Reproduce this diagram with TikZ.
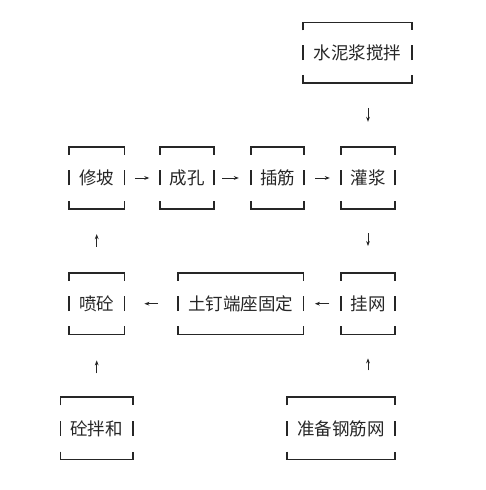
\documentclass[tikz,border=0pt]{standalone}
\usepackage{fontspec}
\newfontfamily\cjk{Noto Sans CJK SC}
\usetikzlibrary{arrows.meta}
\begin{document}
\begin{tikzpicture}[x=1pt,y=1pt,
  box/.style={inner sep=0pt,font=\cjk\fontsize{17.5}{20}\selectfont,text=black!85},
  brk/.style={line width=1.6pt,black!85},
  arr/.style={line width=0.8pt,black!85,-{Stealth[length=5pt,width=3.8pt]}}]
\useasboundingbox (0,0) rectangle (485,490);
% nodes (y = 490 - pixel row)
\node[box,minimum width=109pt,minimum height=60pt] (mix)   at (357.5,437.3) {水泥浆搅拌};
\node[box,minimum width=55pt,minimum height=62pt]  (xiupo) at (96.7,312) {修坡};
\node[box,minimum width=54pt,minimum height=62pt]  (hole)  at (187,312) {成孔};
\node[box,minimum width=53pt,minimum height=62pt]  (bar)   at (277.5,312) {插筋};
\node[box,minimum width=54pt,minimum height=62pt]  (grout) at (368,312) {灌浆};
\node[box,minimum width=55pt,minimum height=61pt]  (spray) at (96.7,186.3) {喷砼};
\node[box,minimum width=125pt,minimum height=61pt] (nail)  at (240.7,186.3) {土钉端座固定};
\node[box,minimum width=54pt,minimum height=61pt]  (mesh)  at (368,186.3) {挂网};
\node[box,minimum width=72pt,minimum height=62pt]  (conc)  at (96.7,61.5) {砼拌和};
\node[box,minimum width=108pt,minimum height=62pt] (prep)  at (341,61.5) {准备钢筋网};
% bracket frames
\foreach \n in {mix,xiupo,hole,bar,grout,spray,nail,mesh,conc,prep}{
  \draw[brk] (\n.north west) ++(0,-8) -- ++(0,8) -- (\n.north east) -- ++(0,-8);
  \draw[brk] (\n.south west) ++(0,8) -- ++(0,-8) -- (\n.south east) -- ++(0,8);
  \draw[brk] (\n.west) ++(0,-7.5) -- ++(0,15);
  \draw[brk] (\n.east) ++(0,-7.5) -- ++(0,15);
}
% connectors
\draw[arr,shorten <=10.5pt,shorten >=10.5pt] (xiupo) -- (hole);
\draw[arr,shorten <=8pt,shorten >=12pt] (hole) -- (bar);
\draw[arr,shorten <=11pt,shorten >=11pt] (bar) -- (grout);
\draw[arr,shorten <=11.5pt,shorten >=11.5pt] (mesh) -- (nail);
\draw[arr,shorten <=20pt,shorten >=20pt] (nail) -- (spray);
\draw[arr,shorten <=25pt,shorten >=25pt] (grout.north |- mix.south) -- (grout.north);
\draw[arr,shorten <=24pt,shorten >=27pt] (grout) -- (mesh);
\draw[arr,shorten <=26pt,shorten >=25pt] (spray) -- (xiupo);
\draw[arr,shorten <=24pt,shorten >=26pt] (conc) -- (spray);
\draw[arr,shorten <=27pt,shorten >=24pt] (mesh.south |- prep.north) -- (mesh.south);
\end{tikzpicture}
\end{document}
